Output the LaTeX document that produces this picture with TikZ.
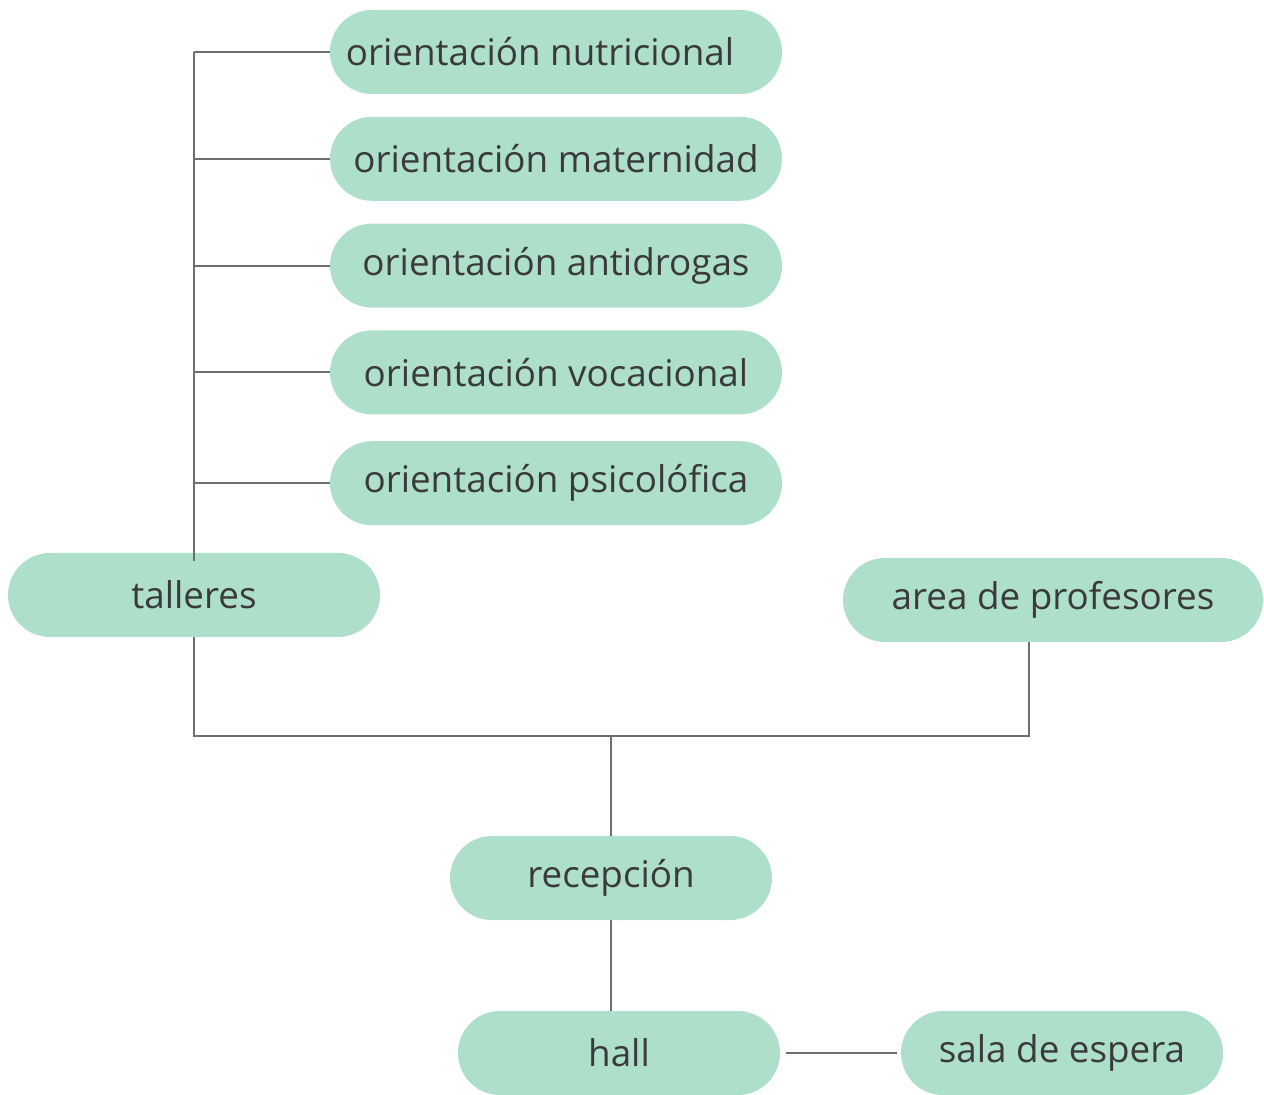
\documentclass[tikz,border=0pt]{standalone}
\usepackage{fontspec}
\setmainfont{Open Sans}
\usepackage{tikz}
\usetikzlibrary{positioning}
\definecolor{mint}{HTML}{AEDFCA}
\definecolor{ink}{HTML}{3A3A3A}
\definecolor{wire}{HTML}{6E6E6E}

\begin{document}
\begin{tikzpicture}[
  x=0.5pt, y=-0.5pt,
  area/.style={fill=mint, draw=none, rounded corners=21pt, minimum height=42pt,
    inner sep=0pt, text=ink, font=\fontsize{18.4}{22}\selectfont},
  sub/.style={area, minimum width=226pt},
  link/.style={draw=wire, line width=1pt},
]
\useasboundingbox (0,0) rectangle (1264,1095);
\node[sub] (nutri) at (556,52) {\hspace*{-16pt}orientación nutricional};
\node[sub, below=11pt of nutri] (mater) {orientación maternidad};
\node[sub, below=11pt of mater] (drogas) {orientación antidrogas};
\node[sub, below=11pt of drogas] (voca) {orientación vocacional};
\node[sub, below=13pt of voca] (psico) {orientación psicolófica};
\node[area, minimum width=186pt] (talleres) at (194,595) {talleres};
\node[area, minimum width=210pt] (prof) at (1053,600) {area de profesores};
\node[area, minimum width=161pt] (recep) at (611,878) {recepción};
\node[area, minimum width=161pt] (hall) at (619,1053) {hall};
\node[area, minimum width=161pt] (sala) at (1062,1053) {sala de espera};

\coordinate (top) at (talleres.north |- nutri.west);
\coordinate (bus) at (recep.north |- 0,736);
\draw[link] (top) -- ([yshift=-4pt]talleres.north);
\foreach \n in {nutri,mater,drogas,voca,psico}
  \draw[link] (top |- \n.west) -- (\n.west);
\draw[link] (talleres.south) |- (bus) -| ([xshift=-12pt]prof.south);
\draw[link] (bus) -- (recep.north);
\draw[link] (recep.south) -- (recep.south |- hall.north);
\draw[link, shorten <=3pt, shorten >=2pt] (hall) -- (sala);
\end{tikzpicture}
\end{document}
